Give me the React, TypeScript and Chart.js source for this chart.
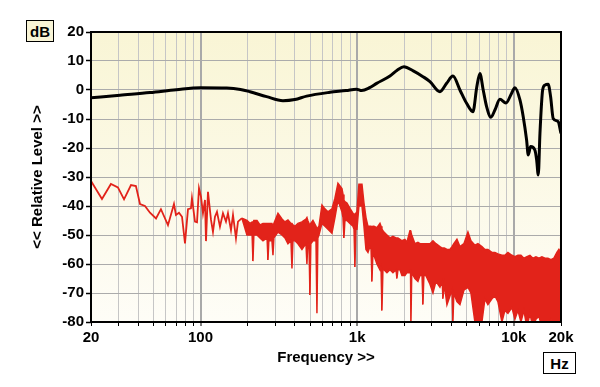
import React, { useEffect, useRef } from "react";
import { Chart, registerables } from "chart.js";

Chart.register(...registerables);

// ---- Frequency response (black) ----
const RESP_FREQ = [20, 30.6, 47.6, 70, 100, 147, 180, 207, 264, 336, 400, 476, 670, 850, 990, 1068, 1200, 1331, 1619, 1800, 1988, 2280, 2630, 2915, 3375, 3724, 4085, 4528, 4996, 5480, 5800, 6070, 6375, 6700, 7140, 7571, 8150, 8900, 9680, 10160, 10940, 11480, 12060, 12360, 12800, 13620, 13980, 14320, 14680, 15270, 15790, 16560, 17170, 17830, 19180, 20000];
const RESP_LEVEL = [-2.7, -1.8, -0.9, 0.1, 0.8, 0.7, 0.2, -0.6, -2.3, -3.7, -3.3, -2.1, -0.8, -0.2, 0.3, -0.2, 0.8, 2.3, 4.8, 6.8, 8.0, 6.6, 4.6, 2.9, -0.6, 2.3, 4.8, 0.0, -4.6, -7.5, 1.0, 5.7, 0.0, -5.7, -9.4, -6.9, -3.2, -4.5, -1.1, 0.8, -3.4, -9.2, -17.2, -22.4, -19.5, -20.7, -24.1, -29.3, -14.9, 0.0, 1.7, 2.0, -2.3, -9.8, -10.9, -15.0];

// ---- Distortion spectrum (red), low-frequency single trace ----
const DIST_LF_FREQ = [20, 23.5, 26.8, 29.7, 32.5, 36.0, 38.7, 41.1, 44.2, 47.6, 52.0, 55.9, 62.0, 67.7, 69.7, 72.9, 76.2, 79.6, 83.2, 86.9, 88.2, 92.2, 95.0, 97.8, 100.7, 103.7, 106.8, 108.4, 111.6, 116.7, 120.1, 123.7, 127.4, 133.1, 139.1, 145.4, 149.7, 156.5, 161.2, 168.4, 173.5, 183.9];
const DIST_LF_LEVEL = [-31.4, -37.6, -32.4, -33.6, -37.7, -32.8, -33.1, -39.3, -40.0, -42.3, -44.3, -41.1, -46.6, -39.3, -43.1, -42.3, -43.7, -52.9, -41.1, -40.8, -37.3, -45.4, -45.6, -33.9, -36.8, -42.5, -37.9, -52.1, -35.1, -44.8, -48.9, -43.7, -42.0, -47.1, -42.5, -45.4, -42.5, -48.3, -43.1, -51.1, -45.4, -44.2];

// ---- Distortion spectrum (red), dense part: upper and lower envelope ----
const DIST_FREQ = [
  183.9, 197.9, 206.8, 213.5, 216.2, 219, 229.4, 239.7, 250.5, 266,
  269.6, 273, 285.8, 290.1, 294, 312.2, 331.2, 346.0, 361.6, 378,
  383.5, 389, 400.8, 418.8, 444.2, 471, 477.8, 484, 493, 499.5,
  506, 522.0, 546, 553.6, 561, 570.2, 596.0, 622.8, 650.8, 690.2,
  721.2, 754.0, 799.6, 812, 823.4, 835, 860.4, 899.2, 939.8, 955,
  967.8, 980, 996.6, 1026, 1073, 1105, 1138, 1172, 1207, 1227,
  1243, 1260, 1279, 1337, 1398, 1420, 1439, 1460, 1482, 1549,
  1619, 1692, 1770, 1794, 1820, 1875, 1931, 2018, 2078, 2172,
  2190, 2204, 2230, 2337, 2442, 2516, 2595, 2630, 2665, 2748,
  2915, 3046, 3183, 3375, 3490, 3527, 3600, 3742, 3909, 4030,
  4085, 4140, 4333, 4528, 4802, 5093, 5322, 5644, 5898, 6255,
  6537, 6832, 7245, 7571, 7913, 8393, 8770, 9166, 9721, 10160,
  10620, 11100, 11600, 12120, 12670, 13240, 13840, 14460, 15110, 15790,
  16500, 17240, 18020, 18830, 19390, 19900, 20000,
];
const DIST_UPPER = [
  -44.2, -45, -46, -45.5, -46, -45, -45, -46.5, -46, -46,
  -46, -46, -46, -47, -46, -42.5, -44.5, -45.5, -44.8, -46,
  -46, -46.5, -47, -46, -45.5, -44.5, -44, -45, -46, -47,
  -46, -45, -47, -48, -47.5, -47, -39.7, -41, -42, -41,
  -37.3, -32.2, -34, -36, -38, -38.5, -39, -40.8, -42.5, -43,
  -43, -42.5, -42, -32.5, -32.5, -39, -44, -47, -47, -47,
  -47.5, -47, -47, -47.5, -46, -47, -48, -48.5, -49, -50,
  -51, -50.5, -51, -51, -51, -51.5, -52, -51.5, -52.5, -48.5,
  -48.5, -49, -50, -53, -52.5, -53, -53, -53, -53, -53,
  -53, -52, -53, -54, -54.5, -54.5, -54.5, -55, -55, -54,
  -54, -53, -51.5, -54, -53, -49, -52, -53.5, -53, -54,
  -55, -55, -56, -56, -56.5, -57, -57, -56, -57, -57.5,
  -57, -57, -58, -57.5, -57, -58, -57.5, -58, -57.5, -58,
  -58, -58.5, -58, -56, -55, -56, -26,
];
const DIST_LOWER = [
  -44.2, -50, -50, -50, -59, -50, -50, -51, -52, -51,
  -58.6, -52, -52, -57, -51, -49, -50, -51, -53, -52,
  -61.5, -52, -52, -53, -55, -53, -60, -53, -54, -70.7,
  -53, -52, -52, -77, -51, -50, -46, -47, -48, -49.4,
  -44, -38, -42, -44, -51, -45, -45, -46, -47, -48,
  -61, -48, -48, -40, -40, -47, -55, -56, -54, -55,
  -66, -56, -57, -60, -62, -61, -76, -62, -62, -63,
  -62, -63, -62, -65, -62, -62, -64, -64, -63, -63,
  -62, -80, -63, -65, -66, -64, -64, -74, -64, -64,
  -67, -70, -66, -68, -66, -72, -67, -74, -71, -69,
  -80, -70, -73, -74, -69, -68, -70, -80, -82, -80,
  -72, -74, -72, -71, -73, -80, -76, -77, -75, -79,
  -76, -80, -76, -82, -77, -82, -79, -78, -82, -80,
  -82, -79, -82, -80, -80, -80, -80,
];

const X_TICK_VALUES = [20, 30, 40, 50, 60, 70, 80, 90, 100, 200, 300, 400, 500, 600, 700, 800, 900, 1000, 2000, 3000, 4000, 5000, 6000, 7000, 8000, 9000, 10000, 20000];
const X_LABEL_VALUES = [20, 100, 1000, 10000, 20000];
const X_LABEL_TEXTS = ["20", "100", "1k", "10k", "20k"];
const X_MAJOR = [100, 1000, 10000];
const Y_TICK_VALUES = [-80, -70, -60, -50, -40, -30, -20, -10, 0, 10, 20];

const FONT = '"Liberation Sans", Arial, Helvetica, sans-serif';
const RED = "#e2231a";

const frame = {
  id: "frame",
  beforeDraw(chart: any) {
    const { ctx, chartArea } = chart;
    const { left, top, right, bottom } = chartArea;
    const g = ctx.createLinearGradient(0, top, 0, bottom);
    g.addColorStop(0, "#f9f5d5");
    g.addColorStop(1, "#fefdf7");
    ctx.save();
    ctx.fillStyle = g;
    ctx.fillRect(left, top, right - left, bottom - top);
    ctx.restore();
  },
  afterDraw(chart: any) {
    const { ctx, chartArea } = chart;
    const { left, top, right, bottom } = chartArea;
    ctx.save();
    ctx.strokeStyle = "#000";
    ctx.lineWidth = 2;
    ctx.strokeRect(left, top, right - left, bottom - top);
    ctx.restore();
  },
};

export default function App() {
  const ref = useRef<HTMLCanvasElement | null>(null);

  useEffect(() => {
    if (!ref.current) return;
    const pts = (xs: number[], ys: number[]) => xs.map((x, i) => ({ x, y: ys[i] }));
    const chart = new Chart(ref.current, {
      type: "line",
      data: {
        datasets: [
          {
            label: "Response",
            data: pts(RESP_FREQ, RESP_LEVEL),
            borderColor: "#000",
            borderWidth: 3,
            pointRadius: 0,
            cubicInterpolationMode: "monotone",
            fill: false,
            clip: 0,
          },
          {
            label: "Distortion LF",
            data: pts(DIST_LF_FREQ, DIST_LF_LEVEL),
            borderColor: RED,
            borderWidth: 1.8,
            pointRadius: 0,
            tension: 0,
            fill: false,
            clip: 0,
          },
          {
            label: "Distortion lower",
            data: pts(DIST_FREQ, DIST_LOWER),
            borderColor: RED,
            borderWidth: 1.5,
            pointRadius: 0,
            tension: 0,
            fill: false,
            clip: 0,
          },
          {
            label: "Distortion upper",
            data: pts(DIST_FREQ, DIST_UPPER),
            borderColor: RED,
            backgroundColor: RED,
            borderWidth: 1.5,
            pointRadius: 0,
            tension: 0,
            fill: "-1",
            clip: 0,
          },
        ],
      },
      options: {
        animation: false,
        responsive: false,
        events: [],
        layout: { padding: { top: 32, right: 39, bottom: 0, left: 0 } },
        plugins: { legend: { display: false }, tooltip: { enabled: false } },
        scales: {
          x: {
            type: "logarithmic",
            min: 20,
            max: 20000,
            afterBuildTicks: (s: any) => {
              s.ticks = X_TICK_VALUES.map((v) => ({ value: v }));
            },
            afterFit: (s: any) => {
              s.height = 65;
            },
            border: { display: false },
            grid: {
              color: (c: any) => (c.tick && X_MAJOR.includes(c.tick.value) ? "#a9a9a9" : "#c6c6c6"),
              lineWidth: (c: any) => (c.tick && X_MAJOR.includes(c.tick.value) ? 2 : 1),
              tickColor: "#000",
              tickLength: 4,
              tickWidth: 1,
            },
            ticks: {
              autoSkip: false,
              maxRotation: 0,
              minRotation: 0,
              padding: 3,
              color: "#000",
              font: { family: FONT, size: 15, weight: "bold" },
              callback: (v: any) => {
                const i = X_LABEL_VALUES.indexOf(Number(v));
                return i >= 0 ? X_LABEL_TEXTS[i] : "";
              },
            },
            title: {
              display: true,
              text: "Frequency >>",
              color: "#000",
              font: { family: FONT, size: 15, weight: "bold" },
              padding: { top: 0, bottom: 20 },
            },
          },
          y: {
            min: -80,
            max: 20,
            afterBuildTicks: (s: any) => {
              s.ticks = Y_TICK_VALUES.map((v) => ({ value: v }));
            },
            afterFit: (s: any) => {
              s.width = 91;
            },
            border: { display: false },
            grid: {
              color: "#ababab",
              lineWidth: 1,
              tickColor: "#000",
              tickLength: 5,
              tickWidth: 1.5,
            },
            ticks: {
              padding: 2,
              color: "#000",
              font: { family: FONT, size: 15, weight: "bold" },
              callback: (v: any) => String(v),
            },
            title: {
              display: true,
              text: "<< Relative Level >>",
              color: "#000",
              font: { family: FONT, size: 15, weight: "bold" },
              padding: { top: 29, bottom: 0 },
            },
          },
        },
      },
      plugins: [frame],
    } as any);
    return () => chart.destroy();
  }, []);

  const boxStyle: React.CSSProperties = {
    position: "absolute",
    boxSizing: "border-box",
    border: "1.5px solid #000",
    fontFamily: FONT,
    fontWeight: "bold",
    fontSize: 15,
    color: "#000",
    display: "flex",
    alignItems: "center",
    justifyContent: "center",
    lineHeight: 1,
  };

  return (
    <div style={{ position: "fixed", left: 0, top: 0, width: 600, height: 387, background: "#fff" }}>
      <canvas ref={ref} width={600} height={387} style={{ position: "absolute", left: 0, top: 0 }} />
      <div style={{ ...boxStyle, left: 26, top: 20, width: 28, height: 22, background: "#f8f4d6" }}>dB</div>
      <div style={{ ...boxStyle, left: 543, top: 352, width: 33, height: 22, background: "#fff" }}>Hz</div>
    </div>
  );
}
